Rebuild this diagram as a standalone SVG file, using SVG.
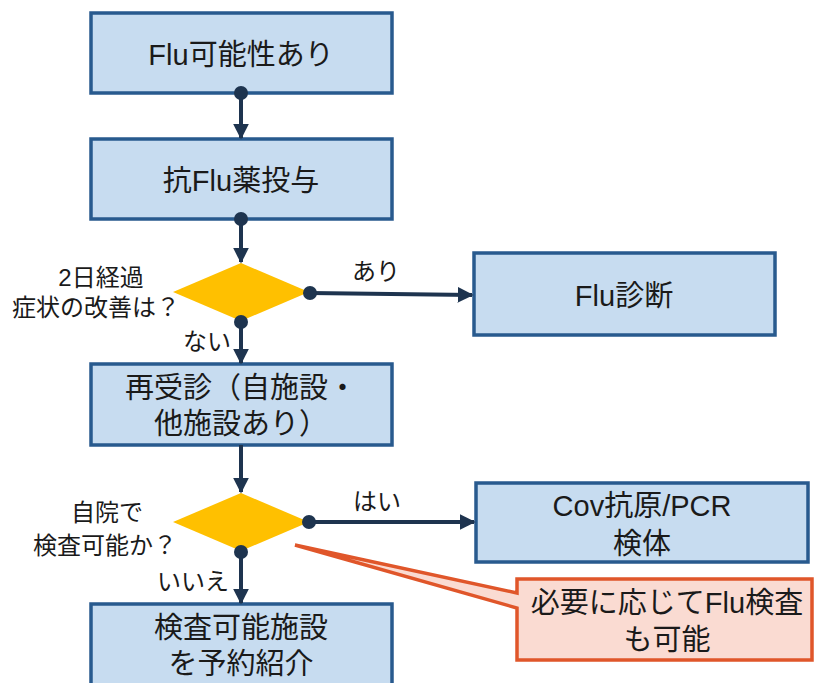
<svg xmlns="http://www.w3.org/2000/svg" width="816" height="683" viewBox="0 0 816 683">
<defs>
<style>
.box{fill:#C7DCF0;stroke:#285A8E;stroke-width:3.5}
.dia{fill:#FFC000}
.t{font-family:"Liberation Sans","Noto Sans CJK JP",sans-serif;fill:#1a1a1a;text-anchor:middle}
.big{font-size:29px}
.lbl{font-size:24px}
.con{stroke:#1E344F;stroke-width:4;fill:none}
.dot{fill:#1E344F}
</style>
<marker id="ah" viewBox="0 0 10 10" refX="9" refY="5" markerWidth="4" markerHeight="4" orient="auto" markerUnits="strokeWidth">
<path d="M0,0L10,5L0,10z" fill="#1E344F"/>
</marker>
</defs>
<rect width="816" height="683" fill="#fff"/>
<g id="n1"><rect class="box" x="91" y="13" width="301" height="80"/><text class="t big" x="241" y="65">Flu可能性あり</text></g>
<g id="n2"><rect class="box" x="91" y="139" width="301" height="80"/><text class="t big" x="241" y="191">抗Flu薬投与</text></g>
<g id="d1"><polygon class="dia" points="173,292 241,263 309,292 241,321"/><text class="t lbl" x="101" y="286">2日経過</text><text class="t lbl" x="96" y="316">症状の改善は？</text></g>
<g id="n3"><rect class="box" x="474" y="253" width="301" height="82"/><text class="t big" x="624" y="306">Flu診断</text></g>
<g id="n4"><rect class="box" x="91" y="364" width="301" height="81"/><text class="t big" x="241" y="398">再受診（自施設・</text><text class="t big" x="241" y="434">他施設あり）</text></g>
<g id="d2"><polygon class="dia" points="173,522 241,493 309,522 241,551"/><text class="t lbl" x="107" y="521">自院で</text><text class="t lbl" x="105" y="554">検査可能か？</text></g>
<g id="n5"><rect class="box" x="476" y="483" width="332" height="79"/><text class="t big" x="642" y="516">Cov抗原/PCR</text><text class="t big" x="642" y="554">検体</text></g>
<g id="n6"><rect class="box" x="91" y="604" width="301" height="90"/><text class="t big" x="241" y="638">検査可能施設</text><text class="t big" x="241" y="674">を予約紹介</text></g>
<g id="callout"><path d="M295,545 L517,593 L517,579 L812,579 L812,660 L517,660 L517,608 Z" fill="#FADBD2" stroke="#E0562A" stroke-width="3.5" stroke-linejoin="miter"/><text class="t big" x="667" y="613">必要に応じてFlu検査</text><text class="t big" x="667" y="650">も可能</text></g>
<g id="connectors">
<line class="con" x1="241" y1="93" x2="241" y2="138" marker-end="url(#ah)"/><circle class="dot" cx="241" cy="93" r="7"/>
<line class="con" x1="241" y1="219" x2="241" y2="262" marker-end="url(#ah)"/><circle class="dot" cx="241" cy="219" r="7"/>
<line class="con" x1="310" y1="293" x2="472" y2="295" marker-end="url(#ah)"/><circle class="dot" cx="310" cy="293" r="7"/>
<line class="con" x1="241" y1="322" x2="241" y2="363" marker-end="url(#ah)"/><circle class="dot" cx="241" cy="322" r="7"/>
<line class="con" x1="241" y1="445" x2="241" y2="492" marker-end="url(#ah)"/>
<line class="con" x1="309" y1="522" x2="474" y2="522" marker-end="url(#ah)"/><circle class="dot" cx="309" cy="522" r="7"/>
<line class="con" x1="241" y1="552" x2="241" y2="603" marker-end="url(#ah)"/><circle class="dot" cx="241" cy="552" r="7"/>
<text class="t lbl" x="376" y="280">あり</text>
<text class="t lbl" x="207" y="350">ない</text>
<text class="t lbl" x="377" y="510">はい</text>
<text class="t lbl" x="193" y="590">いいえ</text>
</g>
</svg>
